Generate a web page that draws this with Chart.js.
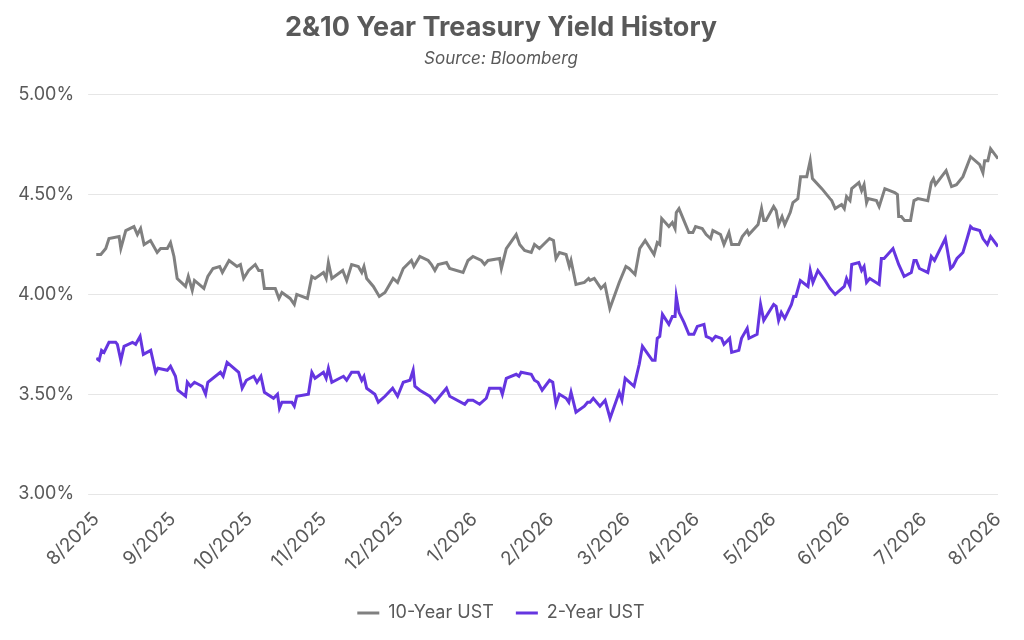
<!DOCTYPE html>
<html>
<head>
<meta charset="utf-8">
<script src="https://cdn.jsdelivr.net/npm/chart.js@4"></script>
<style>
  html, body { margin: 0; padding: 0; background: #fff; }
  #wrap { width: 1024px; height: 640px; }
</style>
</head>
<body>
<div id="wrap"><canvas id="yieldChart"></canvas></div>
<script>
// days since 8/1/2025 and yields (%)
var tenDays = [0,1.9,3.9,5.2,9.3,10,12,15.3,16.7,18,19.4,22,24.7,26.1,28.8,30.1,31.5,32.8,36.2,37.3,38.9,39.8,43.6,45.2,47.3,50,51.1,53.8,57,58.4,59.7,61.7,64.4,65.8,67.1,68.1,72.5,74,75.2,78.5,80.2,81.2,85.5,87.3,88.6,92,93.1,94,95.4,99.8,101.4,103.4,106.1,107.5,108.4,109.5,112.2,114.6,116.9,120.2,122,124.3,127.6,128.6,131,134.4,135.7,137.1,138.4,141.8,143.1,148.5,150.5,152.5,155.9,157.2,158.6,163.3,164,
  166,170,171.4,173.4,176.1,177.4,179.4,183.5,185.1,186.1,187.5,190.2,191.5,192.2,194.2,197.6,199.3,199.9,201.6,204.3,205.9,207.9,211.7,214.4,215.7,218.1,220,222.2,225.8,227.1,228.1,228.9,231.8,233.2,234.3,234.8,235.9,237.9,239.9,241.5,242.6,245.3,246.9,248.7,249.6,252.7,254.1,256.1,257.2,260.1,261.5,263.5,264.2,267.9,269.3,270.2,271.1,274.2,275.2,276.2,277.6,278.7,280.9,282,284,285.1,287.6,289,289.9,293.7,297,297.7,299.1,301.7,302.8,303.7,305.1,305.8,308.7,309.8,310.8,311.8,312.4,315.8,316.9,319.2,323.2,324.3,324.8,325.9,327.2,329.6,331,332.6,336.6,338,338.9,339.7,344,346.2,348.2,350.8,353.9,357.6,358.9,359.6,360.9,362,365];
var tenYield = [4.20,4.20,4.23,4.28,4.29,4.23,4.32,4.34,4.30,4.33,4.25,4.27,4.21,4.23,4.23,4.26,4.19,4.08,4.04,4.09,4.02,4.07,4.03,4.09,4.13,4.14,4.11,4.17,4.14,4.15,4.08,4.12,4.15,4.12,4.12,4.03,4.03,3.98,4.01,3.98,3.95,4.00,3.98,4.09,4.08,4.11,4.08,4.16,4.08,4.12,4.07,4.15,4.14,4.11,4.14,4.08,4.04,3.99,4.01,4.08,4.06,4.13,4.17,4.14,4.19,4.17,4.15,4.12,4.15,4.16,4.13,4.11,4.17,4.19,4.17,4.15,4.17,4.18,4.13,
  4.23,4.30,4.25,4.22,4.21,4.25,4.23,4.28,4.27,4.18,4.21,4.20,4.14,4.17,4.05,4.06,4.08,4.07,4.08,4.03,4.05,3.93,4.06,4.14,4.13,4.10,4.23,4.27,4.20,4.26,4.25,4.38,4.34,4.36,4.33,4.41,4.43,4.37,4.31,4.31,4.34,4.33,4.30,4.28,4.32,4.30,4.25,4.31,4.25,4.25,4.29,4.32,4.30,4.35,4.43,4.37,4.37,4.44,4.42,4.35,4.39,4.35,4.41,4.46,4.48,4.59,4.59,4.67,4.58,4.53,4.48,4.47,4.43,4.45,4.43,4.49,4.47,4.53,4.56,4.52,4.55,4.46,4.48,4.47,4.44,4.53,4.51,4.50,4.39,4.39,4.37,4.37,4.47,4.48,4.47,4.56,4.58,4.55,4.62,4.54,4.55,4.59,4.69,4.65,4.61,4.67,4.67,4.73,4.68];
var twoDays = [0,1.2,2.2,3.2,5.2,7.9,8.6,10,11.3,14.7,16,17.8,19.1,22.1,24.1,25,28.8,30.1,32.1,33.1,36.2,36.9,38.2,39.8,42.9,44.3,45.2,50.3,51.4,53,57.7,59.1,60.8,63.8,65.1,66.7,68.1,71.8,73.4,74.2,75.2,79.2,80.2,81.2,85.9,87.3,88.6,92,93.1,94,95.4,100.1,101.4,103.4,106.1,107.5,108.4,109.5,112.8,114.2,116.9,120,122,124.3,127,128.3,129,131,135,137.1,141.8,143.1,149.2,150.5,152.5,155.2,157.9,159.2,163.6,164.4,
  166,170,171.1,172,176.1,177.4,178.8,180.5,183.5,184.8,186.1,187.5,190.2,191.3,192.2,194.2,197.6,198.9,199.9,201.2,203.9,206,208,211.7,212.8,214.1,217.7,219.8,221.1,225.1,226.2,227.1,228.1,229.2,231.8,233.2,234.3,234.8,235.9,237.9,239.9,241.9,243.3,246,246.9,248.7,249.3,250.7,253.1,254.1,256.4,257.2,260.1,261.2,263.5,264.2,267.5,268.9,270.2,274.2,275.2,276.2,277.3,278.7,281.4,282.3,283.2,285,288.1,289,290.1,292.1,295,297,299.1,302.8,303.7,305.1,305.8,308.7,309.8,310.8,311.8,313.1,316.9,317.8,318.9,322.5,324.8,327,329.9,331,331.9,333.2,336.6,338,339.3,343.7,345.8,346.7,348.4,350.8,352.5,353.9,354.8,357.6,358.9,360.7,362,365];
var twoYield = [3.68,3.67,3.72,3.71,3.76,3.76,3.75,3.67,3.74,3.76,3.75,3.79,3.70,3.72,3.61,3.63,3.62,3.64,3.59,3.52,3.49,3.56,3.54,3.56,3.54,3.50,3.56,3.61,3.59,3.66,3.61,3.53,3.57,3.59,3.56,3.59,3.51,3.48,3.50,3.43,3.46,3.46,3.44,3.49,3.50,3.61,3.58,3.61,3.58,3.63,3.56,3.59,3.57,3.61,3.61,3.57,3.59,3.53,3.50,3.46,3.49,3.53,3.49,3.56,3.57,3.62,3.54,3.52,3.49,3.46,3.53,3.49,3.45,3.47,3.47,3.45,3.48,3.53,3.53,3.50,
  3.58,3.60,3.59,3.61,3.60,3.57,3.56,3.52,3.57,3.56,3.45,3.50,3.48,3.46,3.51,3.41,3.44,3.46,3.46,3.48,3.44,3.47,3.38,3.51,3.47,3.58,3.54,3.65,3.74,3.67,3.67,3.78,3.79,3.90,3.85,3.89,3.89,3.99,3.91,3.86,3.80,3.80,3.84,3.85,3.79,3.78,3.77,3.79,3.78,3.75,3.78,3.71,3.72,3.78,3.83,3.78,3.80,3.95,3.87,3.95,3.94,3.87,3.91,3.88,3.95,3.99,3.99,4.07,4.04,4.12,4.06,4.12,4.07,4.03,4.00,4.04,4.08,4.04,4.15,4.16,4.12,4.14,4.06,4.08,4.05,4.18,4.18,4.23,4.15,4.09,4.11,4.17,4.17,4.13,4.11,4.19,4.17,4.28,4.13,4.14,4.18,4.21,4.28,4.34,4.33,4.32,4.28,4.25,4.29,4.24];

var monthDays = [0,31,62,92,123,153,184,215,243,274,304,335,365];
var monthLabels = ['8/2025','9/2025','10/2025','11/2025','12/2025','1/2026','2/2026','3/2026','4/2026','5/2026','6/2026','7/2026','8/2026'];

function pairs(xs, ys) {
  var out = [];
  for (var i = 0; i < xs.length; i++) out.push({ x: xs[i], y: ys[i] });
  return out;
}

var ctx = document.getElementById('yieldChart').getContext('2d');
var fontFamily = 'Inter, "Open Sans", sans-serif';
var yieldChart = new Chart(ctx, {
  type: 'line',
  data: {
    datasets: [
      {
        label: '10-Year UST',
        data: pairs(tenDays, tenYield),
        borderColor: '#808080',
        backgroundColor: '#808080',
        borderWidth: 3,
        pointRadius: 0,
        tension: 0
      },
      {
        label: '2-Year UST',
        data: pairs(twoDays, twoYield),
        borderColor: '#6535e0',
        backgroundColor: '#6535e0',
        borderWidth: 3,
        pointRadius: 0,
        tension: 0
      }
    ]
  },
  options: {
    responsive: true,
    maintainAspectRatio: false,
    animation: false,
    layout: { padding: { left: 4, right: 26, top: 10, bottom: 8 } },
    plugins: {
      title: {
        display: true,
        text: '2&10 Year Treasury Yield History',
        color: '#595959',
        font: { family: fontFamily, size: 27, weight: 'bold' },
        padding: { top: 2, bottom: 4 }
      },
      subtitle: {
        display: true,
        text: 'Source: Bloomberg',
        color: '#595959',
        font: { family: fontFamily, size: 17, style: 'italic' },
        padding: { bottom: 26 }
      },
      legend: {
        position: 'bottom',
        labels: {
          usePointStyle: true,
          pointStyle: 'line',
          pointStyleWidth: 22,
          color: '#595959',
          font: { family: fontFamily, size: 18 },
          padding: 22
        }
      },
      tooltip: { enabled: false }
    },
    scales: {
      x: {
        type: 'linear',
        min: 0,
        max: 365,
        grid: { display: false },
        border: { display: false },
        afterBuildTicks: function(axis) {
          axis.ticks = monthDays.map(function(d) { return { value: d }; });
        },
        ticks: {
          minRotation: 45,
          maxRotation: 45,
          padding: 6,
          color: '#595959',
          font: { family: fontFamily, size: 19 },
          callback: function(v) {
            var i = monthDays.indexOf(v);
            return i >= 0 ? monthLabels[i] : '';
          }
        }
      },
      y: {
        min: 3,
        max: 5,
        grid: { color: '#e6e6e6' },
        border: { display: false },
        ticks: {
          stepSize: 0.5,
          padding: 14,
          color: '#595959',
          font: { family: fontFamily, size: 18 },
          callback: function(v) { return v.toFixed(2) + '%'; }
        }
      }
    }
  }
});
</script>
</body>
</html>
